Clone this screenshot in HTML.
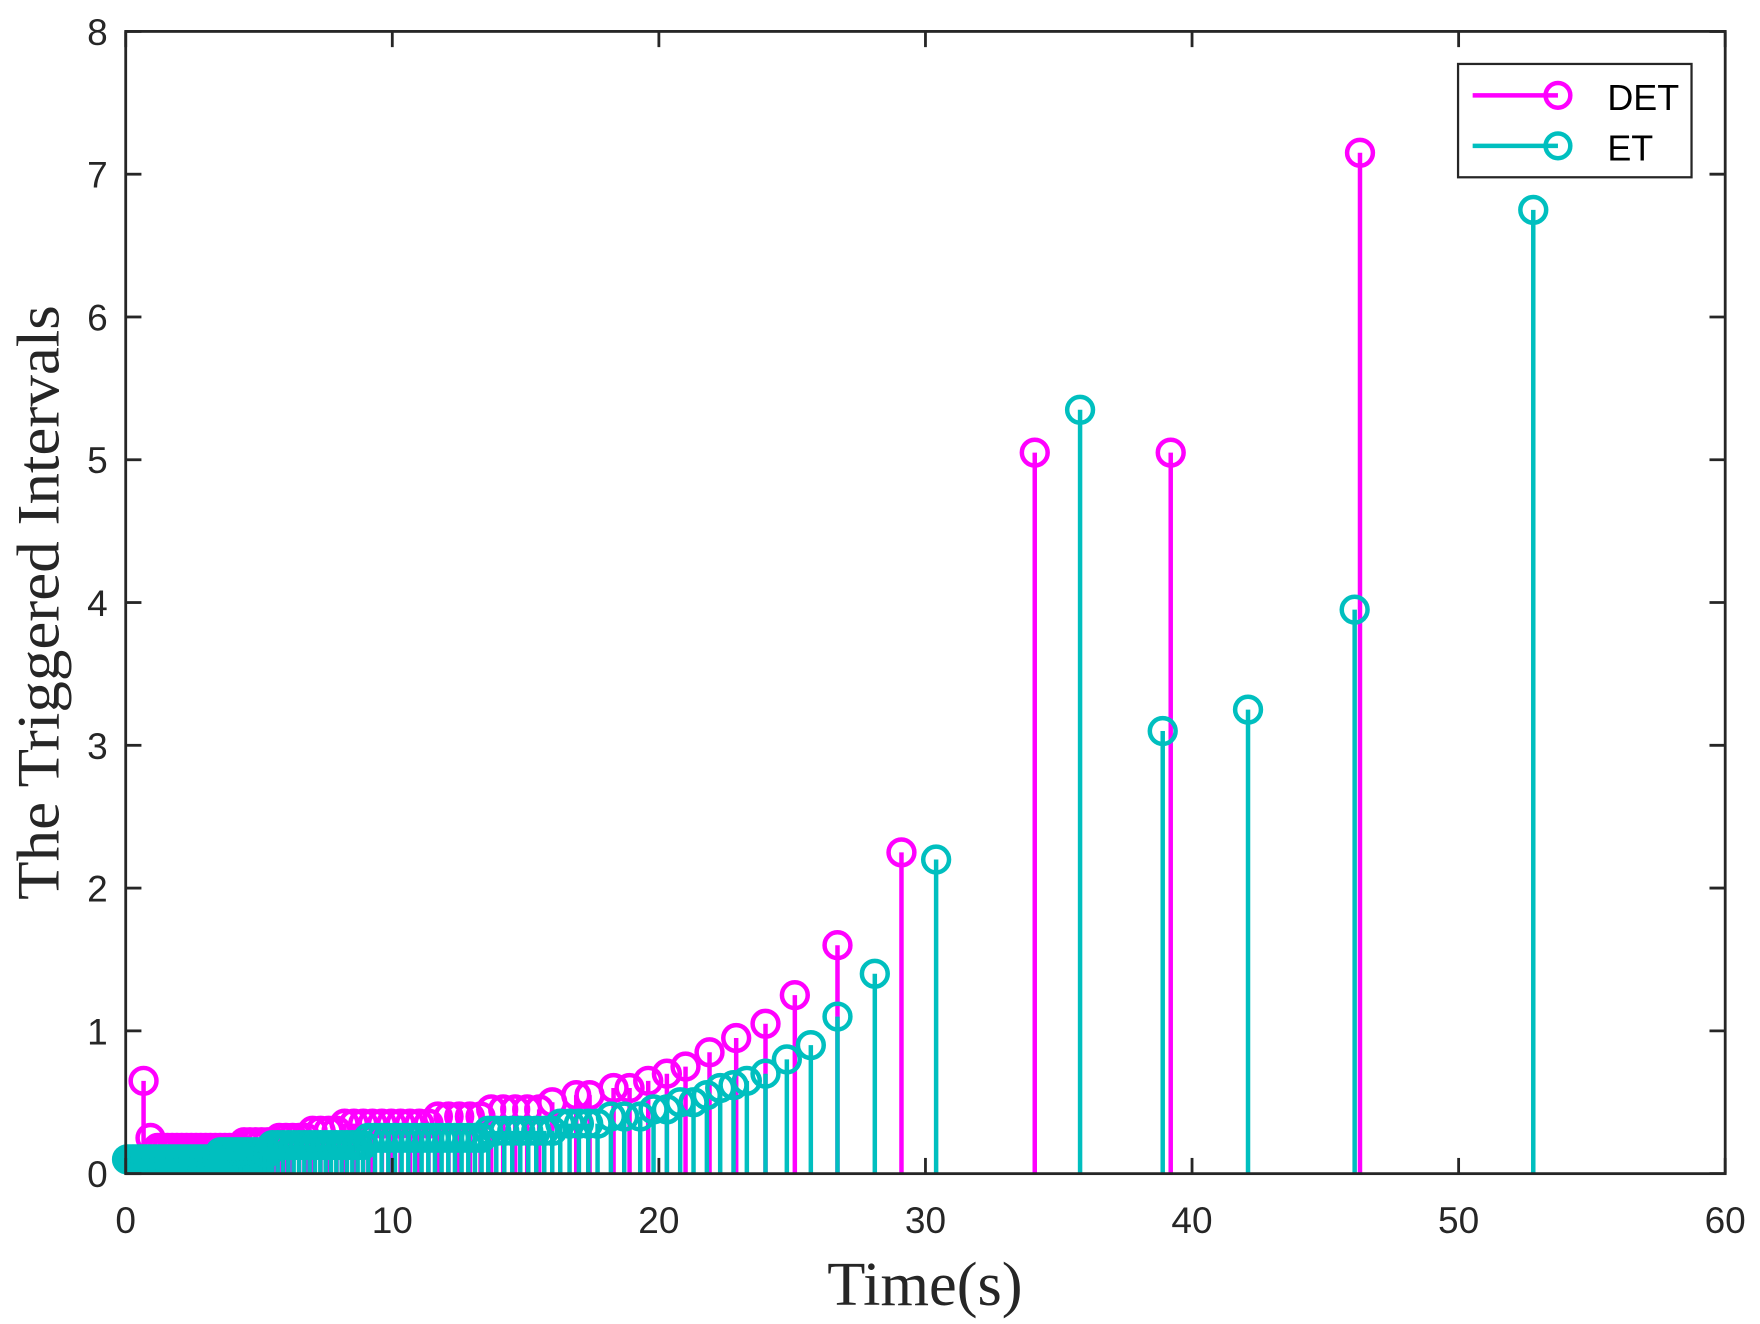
<!DOCTYPE html>
<html><head><meta charset="utf-8"><style>html,body{margin:0;padding:0;background:#fff}svg{display:block}</style></head>
<body>
<svg id="s" width="1760" height="1324" viewBox="0 0 1568 1180" preserveAspectRatio="none" xmlns="http://www.w3.org/2000/svg">
<rect width="1568" height="1180" fill="#fff"/>
<g id="data"></g>
<g id="axes" font-family="Liberation Sans, sans-serif" font-size="33" fill="#262626"></g>
<text x="824" y="1163" font-family="Liberation Serif, serif" font-size="56" text-anchor="middle" fill="#262626" textLength="174" lengthAdjust="spacingAndGlyphs">Time(s)</text>
<text transform="translate(52,537) rotate(-90)" font-family="Liberation Serif, serif" font-size="54" text-anchor="middle" fill="#262626" textLength="530" lengthAdjust="spacingAndGlyphs">The Triggered Intervals</text>
<g>
<rect x="1299" y="57" width="208" height="101" fill="#fff" stroke="#262626" stroke-width="2"/>
<line x1="1312" y1="85" x2="1388" y2="85" stroke="#ff00ff" stroke-width="4"/>
<circle cx="1388" cy="85" r="11" fill="none" stroke="#ff00ff" stroke-width="4"/>
<line x1="1312" y1="130" x2="1388" y2="130" stroke="#00bfbf" stroke-width="4"/>
<circle cx="1388" cy="130" r="11" fill="none" stroke="#00bfbf" stroke-width="4"/>
<text x="1432" y="98" font-family="Liberation Sans, sans-serif" font-size="32" fill="#000">DET</text>
<text x="1432" y="143" font-family="Liberation Sans, sans-serif" font-size="32" fill="#000">ET</text>
</g>
</svg>
<script>
const NS="http://www.w3.org/2000/svg";
const X0=112,X1=1537,Y0=1046,Y1=28;
const sx=t=>X0+(X1-X0)*t/60, sy=v=>Y0-(Y0-Y1)*v/8;
const data=document.getElementById('data'), axes=document.getElementById('axes');
function el(p,tag,a){const e=document.createElementNS(NS,tag);for(const k in a)e.setAttribute(k,a[k]);p.appendChild(e);return e;}
function stems(pts,col){
  const g=el(data,'g',{stroke:col,'stroke-width':4,fill:'none'});
  for(const [t,h] of pts){
    el(g,'line',{x1:sx(t),y1:Y0,x2:sx(t),y2:sy(h)});
    el(g,'circle',{cx:sx(t),cy:sy(h),r:11.5});
  }
}
let det=[[0.67,0.65],[0.93,0.25]];
let t=1.2;
function fd(t){if(t<4.3)return 0.18;if(t<5.7)return 0.22;if(t<7)return 0.25;if(t<8.2)return 0.3;if(t<11.7)return 0.35;if(t<13.6)return 0.4;return 0.45;}
while(t<15.6){const h=fd(t);det.push([t,h]);t+=h;}
det=det.concat([[16,0.5],[16.9,0.55],[17.4,0.55],[18.3,0.6],[18.9,0.6],[19.6,0.65],[20.3,0.7],[21,0.75],[21.9,0.85],[22.9,0.95],[24,1.05],[25.1,1.25],[26.7,1.6],[29.1,2.25],[34.1,5.05],[39.2,5.05],[46.3,7.15]]);
let et=[];t=0.05;
function fe(t){if(t<3.5)return 0.1;if(t<5.5)return 0.15;if(t<9)return 0.2;if(t<13.5)return 0.25;if(t<16.3)return 0.3;return 0.35;}
while(t<17.9){const h=fe(t);et.push([t,h]);t+=h;}
et=et.concat([[18.2,0.4],[18.7,0.4],[19.3,0.4],[19.8,0.45],[20.3,0.45],[20.8,0.5],[21.3,0.5],[21.8,0.55],[22.3,0.6],[22.8,0.62],[23.3,0.65],[24,0.7],[24.8,0.8],[25.7,0.9],[26.7,1.1],[28.1,1.4],[30.4,2.2],[35.8,5.35],[38.9,3.1],[42.1,3.25],[46.1,3.95],[52.8,6.75]]);
stems(det,'#ff00ff');
stems(et,'#00bfbf');
el(axes,'rect',{x:X0,y:Y1,width:X1-X0,height:Y0-Y1,fill:'none',stroke:'#262626','stroke-width':2.5});
for(let i=0;i<=6;i++){const x=sx(i*10);
  el(axes,'line',{x1:x,y1:Y0,x2:x,y2:Y0-14,stroke:'#262626','stroke-width':2.5});
  el(axes,'line',{x1:x,y1:Y1,x2:x,y2:Y1+14,stroke:'#262626','stroke-width':2.5});
  const tx=el(axes,'text',{x:x,y:1099,'text-anchor':'middle'});tx.textContent=i*10;}
for(let i=0;i<=8;i++){const y=sy(i);
  el(axes,'line',{x1:X0,y1:y,x2:X0+14,y2:y,stroke:'#262626','stroke-width':2.5});
  el(axes,'line',{x1:X1,y1:y,x2:X1-14,y2:y,stroke:'#262626','stroke-width':2.5});
  const tx=el(axes,'text',{x:96,y:y+12,'text-anchor':'end'});tx.textContent=i;}
</script>
</body></html>
